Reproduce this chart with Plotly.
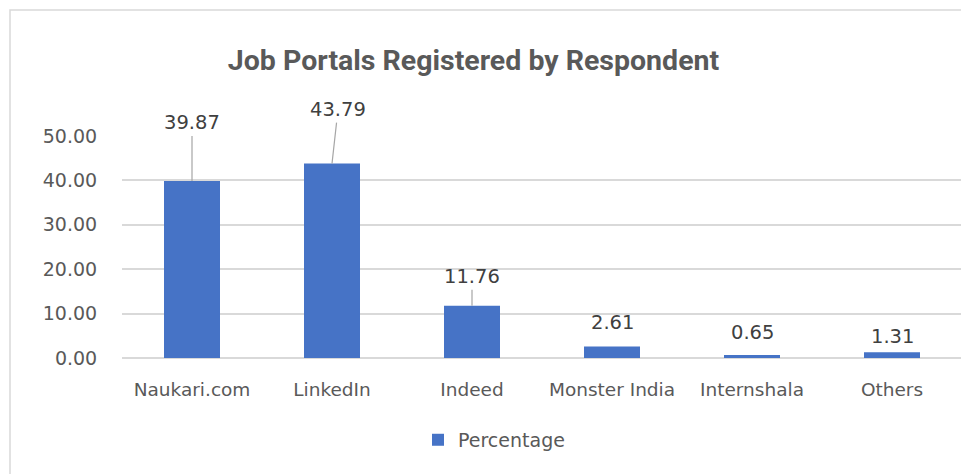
import plotly.graph_objects as go

categories = ["Naukari.com", "LinkedIn", "Indeed", "Monster India", "Internshala", "Others"]
percentage = [39.87, 43.79, 11.76, 2.61, 0.65, 1.31]
label_text = ["39.87", "43.79", "11.76", "2.61", "0.65", "1.31"]
y_ticks = [0, 10, 20, 30, 40, 50]

# label placement offsets (pixels) and whether a leader line is drawn
label_dx = [0, 6, 0, 0, 0, 0]
label_dy = [-58, -54, -29, -24, -23, -16]
leader = [True, True, True, False, False, False]

GRAY = "#595959"
FONT = "DejaVu Sans"

W, H = 961, 466
L, T, PW, PH = 114, 128, 840, 222

fig = go.Figure()
fig.add_trace(go.Bar(
    x=categories, y=percentage, name="Percentage",
    marker=dict(color="#4673C6", line=dict(width=0)),
    width=0.4,
))

for c, v, t, dx, dy, ld in zip(categories, percentage, label_text, label_dx, label_dy, leader):
    fig.add_annotation(
        x=c, y=v, text=t, showarrow=True, ax=dx, ay=dy,
        arrowhead=0, arrowwidth=1.2, standoff=0, startstandoff=0,
        arrowcolor="#a6a6a6" if ld else "rgba(0,0,0,0)",
        font=dict(family=FONT, size=19.5, color="#404040"),
    )

fig.update_layout(
    width=W, height=H,
    margin=dict(l=L, r=W - L - PW, t=T, b=H - T - PH),
    paper_bgcolor="white", plot_bgcolor="white",
    title=dict(text="<b>Job Portals Registered by Respondent</b>", x=465.5 / W, xanchor="center",
               y=1 - 52.5 / H, yanchor="middle",
               font=dict(family="Roboto, sans-serif", size=28.5, color=GRAY)),
    showlegend=True,
    legend=dict(orientation="h", x=(494 - 122) / PW, xanchor="center", y=-0.369, yanchor="middle",
                font=dict(family=FONT, size=19, color=GRAY), itemwidth=30),
    bargap=0.6,
    font=dict(family=FONT, color=GRAY),
)
fig.update_yaxes(range=[0, 50], tickvals=y_ticks, tickformat=".2f",
                 showgrid=True, gridcolor="#d9d9d9", gridwidth=1.5,
                 zeroline=True, zerolinecolor="#d9d9d9", zerolinewidth=1.5,
                 showline=False, ticks="outside", ticklen=20, tickcolor="rgba(0,0,0,0)",
                 tickfont=dict(family=FONT, size=19, color=GRAY))
fig.update_xaxes(showline=False, ticks="outside", ticklen=15, tickcolor="rgba(0,0,0,0)",
                 tickfont=dict(family=FONT, size=18.5, color=GRAY))

# chart frame (light gray border, top and left visible)
fig.add_shape(type="rect", xref="paper", yref="paper",
              x0=(2 - L) / PW, x1=(W + 20 - L) / PW,
              y0=(T + PH - (H + 20)) / PH, y1=(T + PH - 2) / PH,
              line=dict(color="#d9d9d9", width=1.5), layer="below")

fig.write_html("out.html")
